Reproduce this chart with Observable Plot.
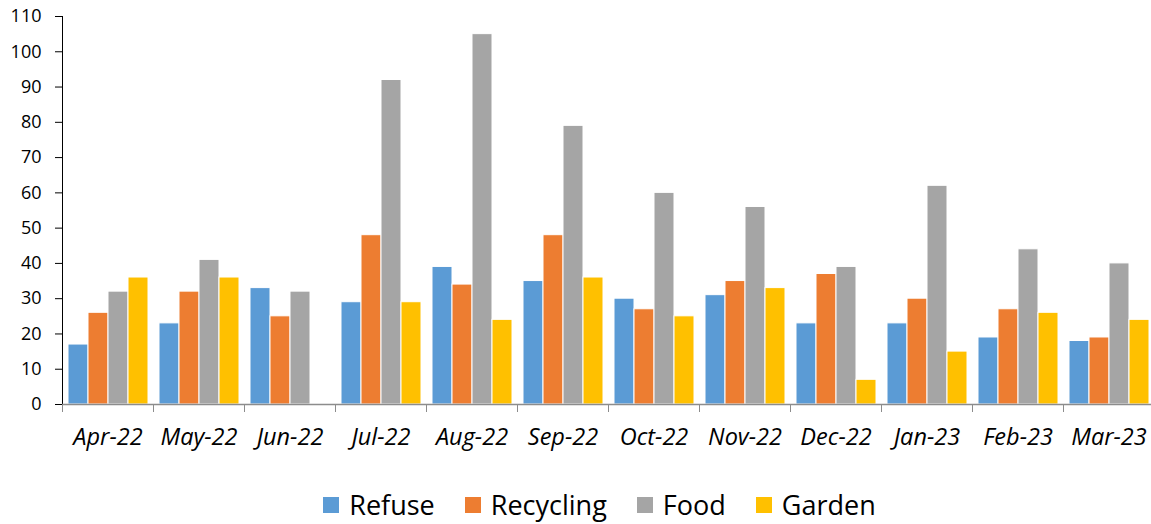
<!DOCTYPE html>
<html>
<head>
<meta charset="utf-8">
<script src="https://cdn.jsdelivr.net/npm/d3@7"></script>
<script src="https://cdn.jsdelivr.net/npm/@observablehq/plot@0.6"></script>
<style>
  body { margin: 0; background: #fff; overflow: hidden; font-family: "Open Sans", sans-serif; }
  #legend { display: flex; justify-content: center; align-items: center; gap: 30px; margin-top: 16px; font-size: 27px; color: #000; padding-left: 48px; }
  #legend .item { display: flex; align-items: center; gap: 10px; }
  #legend .sw { width: 16px; height: 16px; display: inline-block; }
</style>
</head>
<body>
<div id="chart"></div>
<div id="legend"></div>
<script>
const months = ["Apr-22","May-22","Jun-22","Jul-22","Aug-22","Sep-22","Oct-22","Nov-22","Dec-22","Jan-23","Feb-23","Mar-23"];
const series = ["Refuse","Recycling","Food","Garden"];
const colors = ["#5B9BD5","#ED7D31","#A5A5A5","#FFC000"];
const refuse    = [17,23,33,29,39,35,30,31,23,23,19,18];
const recycling = [26,32,25,48,34,48,27,35,37,30,27,19];
const food      = [32,41,32,92,105,79,60,56,39,62,44,40];
const garden    = [36,36,null,29,24,36,25,33,7,15,26,24];
const yTicks = [0,10,20,30,40,50,60,70,80,90,100,110];

const valuesBySeries = [refuse, recycling, food, garden];
const data = [];
months.forEach((m, i) => {
  series.forEach((s, j) => {
    const v = valuesBySeries[j][i];
    if (v != null) data.push({month: m, series: s, value: v});
  });
});

const chart = Plot.plot({
  width: 1151,
  height: 470,
  marginLeft: 62,
  marginRight: -3,
  marginTop: 16,
  marginBottom: 66,
  style: {fontFamily: "Open Sans, sans-serif", fontSize: "18px", color: "#000", background: "#fff", overflow: "visible"},
  fx: {domain: months, padding: 0, label: null, axis: null},
  x: {domain: series, paddingInner: 0, paddingOuter: 0.247, axis: null},
  y: {domain: [0, 110], ticks: yTicks, tickSize: 7, tickPadding: 14, line: true, label: null},
  color: {domain: series, range: colors},
  marks: [
    Plot.barY(data, {fx: "month", x: "series", y: "value", fill: "series", stroke: "white", strokeWidth: 1}),
    Plot.ruleY([0], {stroke: "#8c8c8c", strokeWidth: 1.5}),
    Plot.axisFx({anchor: "bottom", tickSize: 0, label: null, fontStyle: "italic", fontSize: 23.5, tickPadding: 24}),
    Plot.axisFx({anchor: "bottom", tickSize: 8, text: null, label: null, dx: 45.5, stroke: "#8c8c8c"}),
    Plot.axisFx({anchor: "bottom", tickSize: 8, text: null, label: null, dx: -45.5, stroke: "#8c8c8c"})
  ]
});
document.getElementById("chart").appendChild(chart);

const legend = document.getElementById("legend");
series.forEach((s, i) => {
  const item = document.createElement("span");
  item.className = "item";
  const sw = document.createElement("span");
  sw.className = "sw";
  sw.style.background = colors[i];
  const t = document.createElement("span");
  t.textContent = s;
  item.appendChild(sw);
  item.appendChild(t);
  legend.appendChild(item);
});
</script>
</body>
</html>
